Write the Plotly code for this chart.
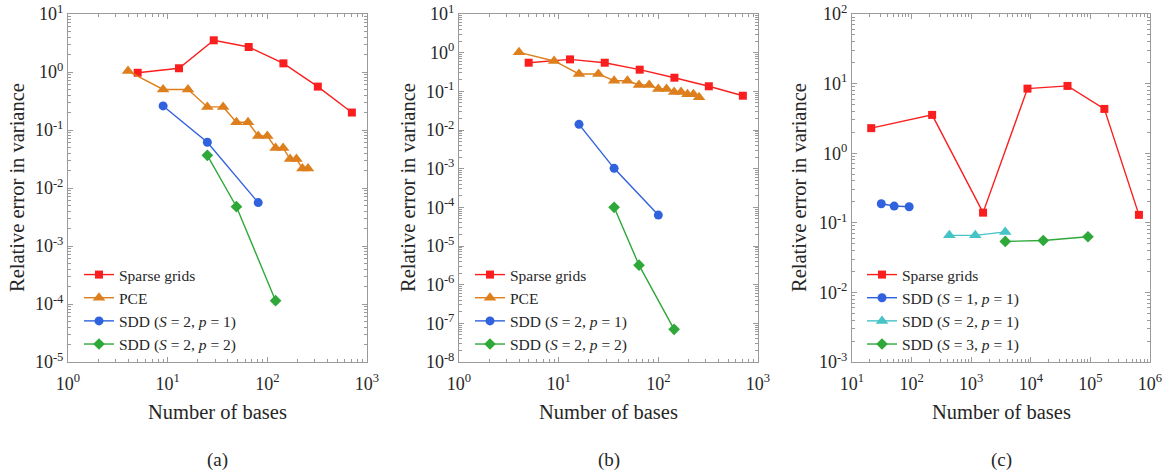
import plotly.graph_objects as go

# ---------------- data ----------------
# panel (a)
bases_sparse_a = [5, 13, 29, 65, 145, 321, 705]
err_sparse_a = [0.97, 1.16, 3.52, 2.70, 1.41, 0.56, 0.20]
bases_pce_a = [4, 9, 16, 25, 36, 49, 64, 81, 100, 121, 144, 169, 196, 225, 256]
err_pce_a = [1.04, 0.50, 0.50, 0.25, 0.25, 0.136, 0.136, 0.079, 0.079, 0.049, 0.049,
             0.0316, 0.0316, 0.0216, 0.0216]
bases_sdd1_a = [9, 25, 81]
err_sdd1_a = [0.26, 0.0614, 0.0056]
bases_sdd2_a = [25, 49, 121]
err_sdd2_a = [0.0366, 0.00476, 1.14e-4]

# panel (b)
bases_sparse_b = [5, 13, 29, 65, 145, 321, 705]
err_sparse_b = [0.55, 0.67, 0.55, 0.363, 0.225, 0.135, 0.077]
bases_pce_b = [4, 9, 16, 25, 36, 49, 64, 81, 100, 121, 144, 169, 196, 225, 256]
err_pce_b = [1.02, 0.609, 0.281, 0.281, 0.188, 0.188, 0.146, 0.146, 0.115, 0.115,
             0.096, 0.096, 0.084, 0.084, 0.070]
bases_sdd1_b = [16, 36, 100]
err_sdd1_b = [0.014, 1.02e-3, 6.3e-5]
bases_sdd2_b = [36, 64, 144]
err_sdd2_b = [1.0e-4, 3.2e-6, 7.0e-8]

# panel (c)
bases_sparse_c = [21, 221, 1581, 8801, 41265, 171425, 652065]
err_sparse_c = [2.29, 3.55, 0.14, 8.47, 9.26, 4.33, 0.13]
bases_s1_c = [31, 51, 91]
err_s1_c = [0.1875, 0.174, 0.17]
bases_s2_c = [430, 1170, 3730]
err_s2_c = [0.066, 0.066, 0.074]
bases_s3_c = [3730, 16200, 91000]
err_s3_c = [0.054, 0.0557, 0.063]

# tick exponents
xexp_ab = [0, 1, 2, 3]
xexp_c = [1, 2, 3, 4, 5, 6]
yexp_a = [-5, -4, -3, -2, -1, 0, 1]
yexp_b = [-8, -7, -6, -5, -4, -3, -2, -1, 0, 1]
yexp_c = [-3, -2, -1, 0, 1, 2]

panel_labels = ["(a)", "(b)", "(c)"]
legend_names_ab = ["Sparse grids", "PCE", "SDD (<i>S</i> = 2, <i>p</i> = 1)", "SDD (<i>S</i> = 2, <i>p</i> = 2)"]
legend_names_c = ["Sparse grids", "SDD (<i>S</i> = 1, <i>p</i> = 1)", "SDD (<i>S</i> = 2, <i>p</i> = 1)", "SDD (<i>S</i> = 3, <i>p</i> = 1)"]

# ---------------- styles ----------------
FONT = "Liberation Serif"
RED = "#fa1e1e"
ORANGE = "#dd7f1c"
BLUE = "#2f62dc"
GREEN = "#2fa83a"
CYAN = "#45c3c6"
FRAME = "#9a9a9a"
TXT = "#262626"

W, H = 1170, 473
fig = go.Figure()


def add(x, y, name, color, symbol, size, xa, ya, legend):
    fig.add_trace(go.Scatter(
        x=x, y=y, name=name, mode="lines+markers",
        line=dict(color=color, width=1.4),
        marker=dict(color=color, symbol=symbol, size=size, line=dict(width=0)),
        xaxis=xa, yaxis=ya, legend=legend))


add(bases_sparse_a, err_sparse_a, legend_names_ab[0], RED, "square", 8, "x", "y", "legend")
add(bases_pce_a, err_pce_a, legend_names_ab[1], ORANGE, "triangle-up", 11, "x", "y", "legend")
add(bases_sdd1_a, err_sdd1_a, legend_names_ab[2], BLUE, "circle", 9, "x", "y", "legend")
add(bases_sdd2_a, err_sdd2_a, legend_names_ab[3], GREEN, "diamond", 9, "x", "y", "legend")

add(bases_sparse_b, err_sparse_b, legend_names_ab[0], RED, "square", 8, "x2", "y2", "legend2")
add(bases_pce_b, err_pce_b, legend_names_ab[1], ORANGE, "triangle-up", 11, "x2", "y2", "legend2")
add(bases_sdd1_b, err_sdd1_b, legend_names_ab[2], BLUE, "circle", 9, "x2", "y2", "legend2")
add(bases_sdd2_b, err_sdd2_b, legend_names_ab[3], GREEN, "diamond", 9, "x2", "y2", "legend2")

add(bases_sparse_c, err_sparse_c, legend_names_c[0], RED, "square", 8, "x3", "y3", "legend3")
add(bases_s1_c, err_s1_c, legend_names_c[1], BLUE, "circle", 9, "x3", "y3", "legend3")
add(bases_s2_c, err_s2_c, legend_names_c[2], CYAN, "triangle-up", 11, "x3", "y3", "legend3")
add(bases_s3_c, err_s3_c, legend_names_c[3], GREEN, "diamond", 9, "x3", "y3", "legend3")

# plot-area pixel boxes (left, right)
boxes = [(68, 367), (459, 758), (852, 1150)]
top_px, bot_px = 14, 362
ydom = [1 - bot_px / H, 1 - top_px / H]


def pow_text(e):
    return "10<sup>%d</sup>" % e


def axis_common():
    return dict(type="log", showline=True, linecolor=FRAME, linewidth=1, mirror="allticks",
                ticks="inside", ticklen=5, tickcolor=FRAME, showgrid=False, zeroline=False,
                tickmode="array",
                minor=dict(ticks="inside", ticklen=3, tickcolor=FRAME, dtick="D1", showgrid=False),
                tickfont=dict(family=FONT, size=18, color=TXT))


xexps = [xexp_ab, xexp_ab, xexp_c]
yexps = [yexp_a, yexp_b, yexp_c]
for i in range(3):
    suf = "" if i == 0 else str(i + 1)
    l, r = boxes[i]
    xa = axis_common()
    xa.update(domain=[l / W, r / W], anchor="y" + suf,
              range=[xexps[i][0], xexps[i][-1]], ticklabelstandoff=5,
              tickvals=[10 ** e for e in xexps[i]], ticktext=[pow_text(e) for e in xexps[i]])
    ya = axis_common()
    ya.update(domain=ydom, anchor="x" + suf,
              range=[yexps[i][0], yexps[i][-1]],
              tickvals=[10.0 ** e for e in yexps[i]], ticktext=[pow_text(e) for e in yexps[i]])
    fig.layout["xaxis" + suf] = xa
    fig.layout["yaxis" + suf] = ya

annotations = []
ytitle_x = [17, 408, 799]
for i in range(3):
    l, r = boxes[i]
    cx = (l + r) / 2 / W
    annotations.append(dict(text="Number of bases", x=cx, y=1 - 412 / H, xref="paper", yref="paper",
                            showarrow=False, font=dict(family=FONT, size=20.5, color=TXT),
                            xanchor="center", yanchor="middle"))
    annotations.append(dict(text=panel_labels[i], x=cx, y=1 - 460 / H, xref="paper", yref="paper",
                            showarrow=False, font=dict(family=FONT, size=19, color=TXT),
                            xanchor="center", yanchor="middle"))
    annotations.append(dict(text="Relative error in variance", x=ytitle_x[i] / W,
                            y=1 - (top_px + bot_px) / 2 / H, xref="paper", yref="paper",
                            showarrow=False, textangle=-90,
                            font=dict(family=FONT, size=20.5, color=TXT),
                            xanchor="center", yanchor="middle"))

leg_common = dict(bgcolor="rgba(0,0,0,0)", borderwidth=0,
                  font=dict(family=FONT, size=15.5, color=TXT),
                  xanchor="left", yanchor="bottom", tracegroupgap=0, itemwidth=30)
legend_x = [79, 470, 862]
legend_y = 1 - 361 / H
fig.update_layout(
    width=W, height=H, margin=dict(l=0, r=0, t=0, b=0, autoexpand=False),
    paper_bgcolor="white", plot_bgcolor="white",
    annotations=annotations,
    legend=dict(x=legend_x[0] / W, y=legend_y, **leg_common),
    legend2=dict(x=legend_x[1] / W, y=legend_y, **leg_common),
    legend3=dict(x=legend_x[2] / W, y=legend_y, **leg_common),
    showlegend=True,
)

fig.write_html("out.html", config={"displayModeBar": False},
               post_script="document.body.style.margin='0px';document.body.style.padding='0px';")
